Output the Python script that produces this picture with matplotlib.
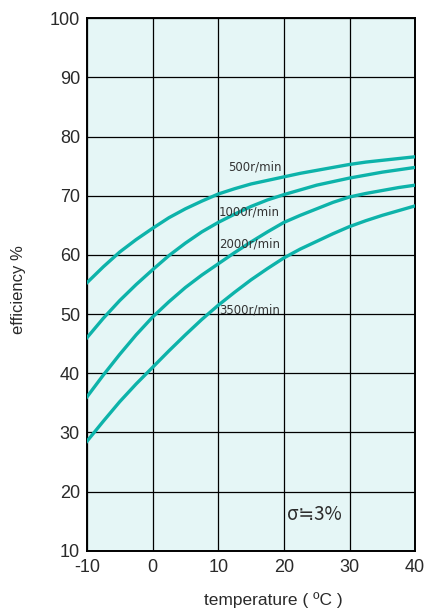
import matplotlib
matplotlib.use("Agg")
import matplotlib.pyplot as plt

plt.rcParams["axes.unicode_minus"] = False

# temperature (deg C)
temps = [-10, -7.5, -5, -2.5, 0, 2.5, 5, 7.5, 10, 12.5, 15, 17.5, 20,
         22.5, 25, 27.5, 30, 32.5, 35, 37.5, 40]

# efficiency % per speed
eff_500 = [55.3, 58.0, 60.5, 62.6, 64.5, 66.3, 67.8, 69.1, 70.3, 71.2, 72.0,
           72.6, 73.2, 73.8, 74.3, 74.8, 75.3, 75.7, 76.0, 76.3, 76.6]
eff_1000 = [46.0, 49.3, 52.3, 55.0, 57.5, 59.9, 62.0, 63.9, 65.5, 66.9, 68.2,
            69.3, 70.2, 71.0, 71.8, 72.4, 73.0, 73.5, 74.0, 74.4, 74.8]
eff_2000 = [36.0, 39.7, 43.2, 46.5, 49.5, 52.1, 54.5, 56.6, 58.5, 60.4, 62.2,
            63.9, 65.5, 66.7, 67.8, 68.9, 69.8, 70.4, 70.9, 71.4, 71.8]
eff_3500 = [28.5, 31.9, 35.2, 38.2, 41.0, 43.8, 46.5, 49.1, 51.5, 53.7, 55.8,
            57.7, 59.5, 61.0, 62.3, 63.6, 64.8, 65.8, 66.7, 67.5, 68.3]

speed_labels = ["500r/min", "1000r/min", "2000r/min", "3500r/min"]
label_x = [11.5, 10.1, 10.1, 10.1]
label_y = [74.8, 67.2, 61.8, 50.7]

x_ticks = [-10, 0, 10, 20, 30, 40]
y_ticks = [10, 20, 30, 40, 50, 60, 70, 80, 90, 100]

curve_color = "#0db3aa"
bg_color = "#e5f6f6"
text_color = "#2a2a2a"
main_font = ["Liberation Sans", "DejaVu Sans"]

fig = plt.figure(figsize=(4.28, 6.10), dpi=100)
ax = fig.add_axes([0.203, 0.097, 0.767, 0.873])
ax.set_facecolor(bg_color)

for series in [eff_500, eff_1000, eff_2000, eff_3500]:
    ax.plot(temps, series, color=curve_color, lw=2.4, zorder=3,
            solid_joinstyle="round")

for txt, lx, ly in zip(speed_labels, label_x, label_y):
    ax.text(lx, ly, txt, fontsize=8.5, color="#333333", ha="left", va="center",
            family=["Liberation Sans Narrow", "DejaVu Sans"], zorder=4)

ax.text(20.5, 16.2, "σ≒3%", fontsize=13.5, color=text_color, ha="left", va="center",
        family=["Noto Sans CJK JP", "DejaVu Sans"], zorder=4)

ax.set_xlim(-10, 40)
ax.set_ylim(10, 100)
ax.set_xticks(x_ticks)
ax.set_yticks(y_ticks)
ax.grid(True, color="black", lw=0.9, zorder=1)
ax.set_axisbelow(True)
ax.tick_params(length=0, labelsize=13, colors=text_color)
ax.tick_params(axis="x", pad=6)
ax.tick_params(axis="y", pad=5)
for lbl in ax.get_xticklabels() + ax.get_yticklabels():
    lbl.set_family(main_font)
for sp in ax.spines.values():
    sp.set_linewidth(1.4)
    sp.set_color("black")

ax.set_xlabel("temperature ( ºC )", fontsize=12.5, color=text_color,
              family=main_font)
ax.xaxis.set_label_coords(0.567, -0.078)
ax.set_ylabel("efficiency %", fontsize=12, color=text_color,
              family=main_font)
ax.yaxis.set_label_coords(-0.185, 0.49)

fig.savefig("out.png", dpi=100)
